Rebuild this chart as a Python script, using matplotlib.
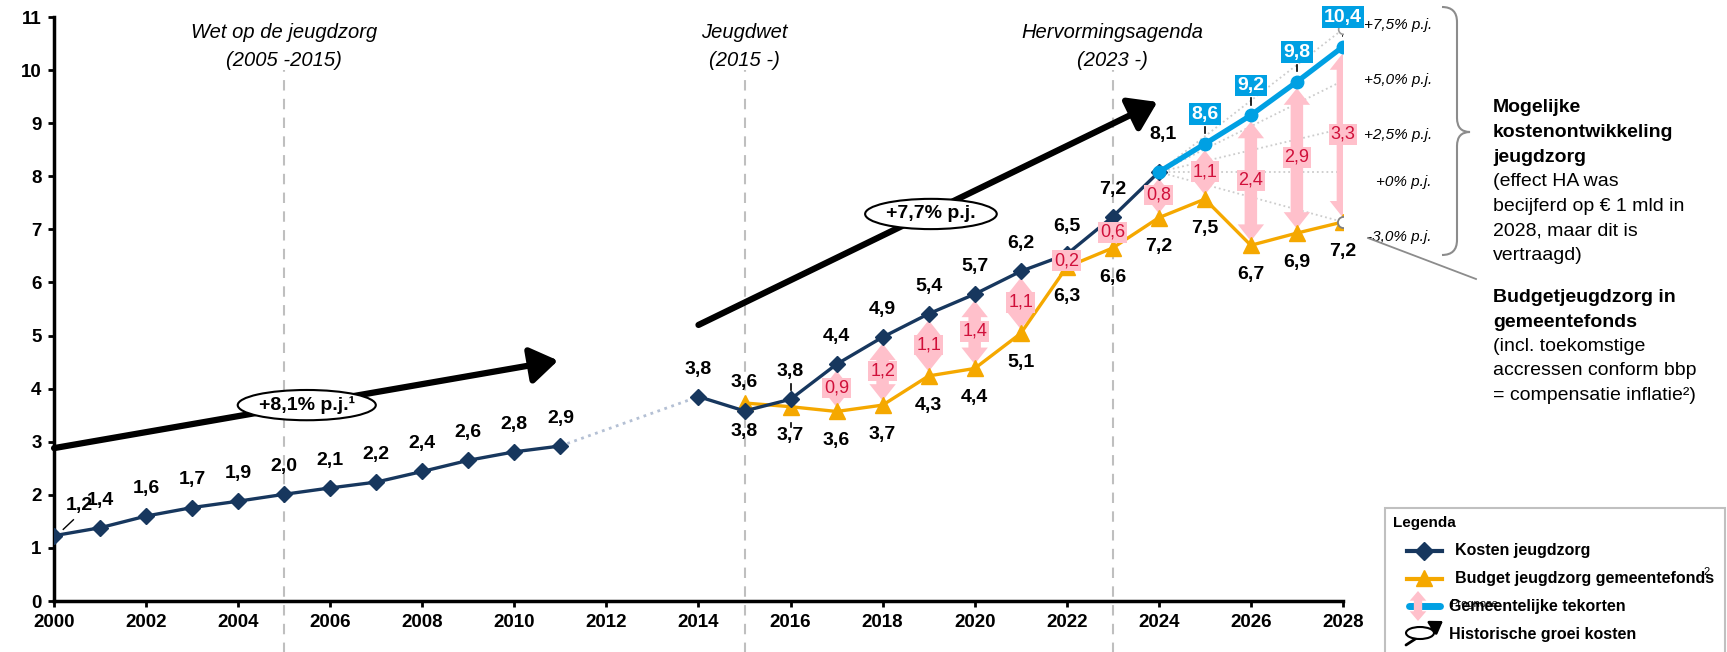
import matplotlib
matplotlib.use("Agg")
import matplotlib.pyplot as plt
import matplotlib.patches as mpatches
from matplotlib.patches import FancyArrowPatch, Ellipse, Rectangle, PathPatch
from matplotlib.path import Path

plt.rcParams['font.family'] = ['Liberation Sans', 'DejaVu Sans']

# ---- data (mld euro) ----
years_hist = list(range(2000, 2012))
kosten_hist = [1.23, 1.38, 1.60, 1.76, 1.88, 2.01, 2.13, 2.24, 2.44, 2.65, 2.81, 2.92]
kosten_hist_lbl = ['1,2', '1,4', '1,6', '1,7', '1,9', '2,0', '2,1', '2,2', '2,4', '2,6', '2,8', '2,9']

years_new = list(range(2014, 2025))
kosten_new = [3.85, 3.58, 3.80, 4.46, 4.97, 5.41, 5.78, 6.21, 6.53, 7.24, 8.08]
kosten_new_lbl = ['3,8', '3,8', '3,8', '4,4', '4,9', '5,4', '5,7', '6,2', '6,5', '7,2', '8,1']

years_budget = list(range(2015, 2029))
budget = [3.73, 3.66, 3.57, 3.69, 4.24, 4.38, 5.04, 6.29, 6.65, 7.22, 7.57, 6.70, 6.93, 7.14]
budget_lbl = ['3,6', '3,7', '3,6', '3,7', '4,3', '4,4', '5,1', '6,3', '6,6', '7,2', '7,5', '6,7', '6,9', '7,2']

years_prog = list(range(2024, 2029))
prognose = [8.08, 8.61, 9.15, 9.78, 10.44]
prognose_lbl = ['', '8,6', '9,2', '9,8', '10,4']

years_tekort = list(range(2017, 2029))
tekort_lbl = ['0,9', '1,2', '1,1', '1,4', '1,1', '0,2', '0,6', '0,8', '1,1', '2,4', '2,9', '3,3']

fan_end = [10.77, 9.80, 8.90, 8.08, 7.14]
fan_lbl = ['+7,5% p.j.', '+5,0% p.j.', '+2,5% p.j.', '+0% p.j.', '-3,0% p.j.']

periods = [(2005, 'Wet op de jeugdzorg', '(2005 -2015)'),
           (2015, 'Jeugdwet', '(2015 -)'),
           (2023, 'Hervormingsagenda', '(2023 -)')]

navy = '#17375e'
orange = '#f5a800'
cyan = '#00a0e3'
pink = '#ffc0cb'
pinktxt = '#d0103a'
grey = '#bfbfbf'

fig = plt.figure(figsize=(17.27, 6.52), dpi=100)
ax = fig.add_axes([0.0313, 0.0782, 0.7463, 0.8957])
ax.set_xlim(2000, 2028)
ax.set_ylim(0, 11)

for s in ['top', 'right']:
    ax.spines[s].set_visible(False)
for s in ['left', 'bottom']:
    ax.spines[s].set_linewidth(2.5)
ax.set_xticks(range(2000, 2029, 2))
ax.set_yticks(range(0, 12))
ax.tick_params(width=2, length=4, labelsize=13.5, pad=5)
for t in ax.get_xticklabels() + ax.get_yticklabels():
    t.set_fontweight('bold')

# period markers
for x, l1, l2 in periods:
    ax.plot([x, x], [-1.0, 10.0], color=grey, ls=(0, (5, 4)), lw=1.5, clip_on=False, zorder=0)
    ax.text(x, 10.7, l1, ha='center', va='center', fontsize=14.5, style='italic')
    ax.text(x, 10.19, l2, ha='center', va='center', fontsize=14.5, style='italic')

# historical growth arrows
for (x0, y0), (x1, y1), (ex, ey, ew), txt in [((2000, 2.88), (2010.95, 4.53), (2005.49, 3.69, 3.0), '+8,1% p.j.\u00b9'),
                                             ((2014.0, 5.2), (2023.97, 9.4), (2019.05, 7.29, 2.86), '+7,7% p.j.')]:
    ax.add_patch(FancyArrowPatch((x0, y0), (x1, y1), arrowstyle='-|>,head_length=0.75,head_width=0.5',
                                 mutation_scale=22, lw=4.5, color='black', shrinkA=0, shrinkB=0,
                                 clip_on=False, zorder=1))
    ax.add_patch(Ellipse((ex, ey), ew, 0.57, fc='white', ec='black', lw=1.5, zorder=1.5))
    ax.text(ex, ey, txt, ha='center', va='center', fontsize=14, fontweight='bold', zorder=1.6)

# dotted link across missing years
ax.plot([years_hist[-1], years_new[0]], [kosten_hist[-1], kosten_new[0]], color='#b4c0d4',
        ls=':', lw=2, zorder=2)

# scenario fan
for v in fan_end:
    ax.plot([years_prog[0], years_prog[-1]], [prognose[0], v], color='#cccccc', ls=':', lw=1.3, zorder=1)
ax.plot(years_prog[-1], fan_end[0], 'o', ms=7, mfc='white', mec='#9a9a9a', mew=1.2, zorder=6)
fan_y = [10.85, 9.81, 8.78, 7.9, 6.86]
for lab, y in zip(fan_lbl, fan_y):
    ax.text(2029.93, y, lab, ha='right', va='center', fontsize=11, style='italic', clip_on=False, zorder=9)

# shortfall arrows
arrow_style = mpatches.ArrowStyle.Simple(head_length=12, head_width=19, tail_width=9)
top_vals = dict(zip(years_new, kosten_new))
top_vals.update(dict(zip(years_prog, prognose)))
bud_vals = dict(zip(years_budget, budget))
for yr, lab in zip(years_tekort, tekort_lbl):
    hi = top_vals[yr] - 0.12
    lo = bud_vals[yr] + 0.08
    mid = (top_vals[yr] + bud_vals[yr]) / 2
    if hi - lo > 0.3:
        for end in (hi, lo):
            ax.add_patch(FancyArrowPatch((yr, mid), (yr, end), arrowstyle=arrow_style, mutation_scale=1,
                                         fc=pink, ec='none', shrinkA=0, shrinkB=0, zorder=2))
    ax.text(yr, mid, lab, ha='center', va='center', fontsize=13, color=pinktxt, zorder=7,
            bbox=dict(boxstyle='square,pad=0.1', fc=pink, ec='none'))

# series
ax.plot(years_hist, kosten_hist, color=navy, lw=2.4, marker='D', ms=8, zorder=4)
ax.plot(years_new, kosten_new, color=navy, lw=2.4, marker='D', ms=8, zorder=4)
ax.plot(years_budget, budget, color=orange, lw=2.4, marker='^', ms=11, zorder=3)
ax.plot(years_prog, prognose, color=cyan, lw=3.8, marker='o', ms=9, zorder=5)
ax.plot(years_budget[-1], budget[-1], 'o', ms=8, mfc='white', mec='#808080', mew=1.3, zorder=6)

# value labels
lblkw = dict(ha='center', va='center', fontsize=14, fontweight='bold', zorder=8)
for i, (x, v, lab) in enumerate(zip(years_hist, kosten_hist, kosten_hist_lbl)):
    if i == 0:
        ax.text(x + 0.55, v + 0.56, lab, **lblkw)
        ax.plot([x + 0.2, x + 0.42], [v + 0.12, v + 0.3], color='black', lw=1)
    else:
        ax.text(x, v + 0.52, lab, **lblkw)
for x, v, lab in zip(years_new, kosten_new, kosten_new_lbl):
    if x == 2015:
        ax.text(x, v - 0.38, lab, **lblkw)
    elif x == 2024:
        ax.text(x + 0.1, v + 0.7, lab, **lblkw)
    else:
        ax.text(x, v + 0.52, lab, **lblkw)
for x, v, lab in zip(years_budget, budget, budget_lbl):
    if x == 2015:
        ax.text(x, v + 0.39, lab, **lblkw)
    else:
        ax.text(x, v - 0.55, lab, **lblkw)
ax.plot([2016, 2016], [3.98, 4.08], color='black', lw=1.2)
ax.plot([2016, 2016], [3.27, 3.36], color='black', lw=1.2)
for x, v, lab in zip(years_prog, prognose, prognose_lbl):
    if lab:
        ax.text(x, v + 0.56, lab, ha='center', va='center', fontsize=14, fontweight='bold', color='white',
                zorder=8, clip_on=False, bbox=dict(boxstyle='square,pad=0.12', fc=cyan, ec='none'))
        ax.plot([x, x], [v + 0.2, v + 0.32], color='black', lw=1.2, zorder=5)

# ---- overlay in pixel units for side notes and legend ----
ov = fig.add_axes([0, 0, 1, 1])
ov.set_xlim(0, 1727)
ov.set_ylim(652, 0)
ov.axis('off')

brace = Path([(1442, 7), (1457, 7), (1457, 22), (1457, 118), (1457, 132), (1470, 132),
              (1457, 132), (1457, 146), (1457, 240), (1457, 255), (1442, 255)],
             [Path.MOVETO, Path.CURVE3, Path.CURVE3, Path.LINETO, Path.CURVE3, Path.CURVE3,
              Path.CURVE3, Path.CURVE3, Path.LINETO, Path.CURVE3, Path.CURVE3])
ov.add_patch(PathPatch(brace, fc='none', ec='#8c8c8c', lw=1.5))
ov.plot([1368, 1476], [238, 279], color='#8c8c8c', lw=1.3)

note1 = [('Mogelijke', 'bold'), ('kostenontwikkeling', 'bold'), ('jeugdzorg', 'bold'),
         ('(effect HA was', 'normal'), ('becijferd op \u20ac 1 mld in', 'normal'),
         ('2028, maar dit is', 'normal'), ('vertraagd)', 'normal')]
for i, (t, w) in enumerate(note1):
    ov.text(1493, 108 + i * 24.6, t, ha='left', va='center', fontsize=14, fontweight=w)
note2 = [('Budgetjeugdzorg in', 'bold'), ('gemeentefonds', 'bold'), ('(incl. toekomstige', 'normal'),
         ('accressen conform bbp', 'normal'), ('= compensatie inflatie\u00b2)', 'normal')]
for i, (t, w) in enumerate(note2):
    ov.text(1493, 298 + i * 24.3, t, ha='left', va='center', fontsize=14, fontweight=w)

# legend
ov.add_patch(Rectangle((1385, 508), 340, 160, fc='white', ec='#c0c0c0', lw=1.5, zorder=1))
ov.text(1393, 523, 'Legenda', ha='left', va='center', fontsize=11, fontweight='bold', zorder=3)
ov.plot([1407, 1442], [551, 551], color=navy, lw=3, zorder=3)
ov.plot(1424, 551, marker='D', ms=9, color=navy, zorder=3)
ov.text(1455, 551, 'Kosten jeugdzorg', ha='left', va='center', fontsize=11.5, fontweight='bold', zorder=3)
ov.plot([1407, 1442], [579, 579], color=orange, lw=3, zorder=3)
ov.plot(1424, 578, marker='^', ms=11, color=orange, zorder=3)
ov.text(1455, 579, 'Budget jeugdzorg gemeentefonds', ha='left', va='center', fontsize=11.5,
        fontweight='bold', zorder=3)
ov.text(1703, 572, '2', ha='left', va='center', fontsize=8, zorder=3)
ov.plot([1409, 1440], [606, 606], color=cyan, lw=5, solid_capstyle='round', zorder=3)
leg_style = mpatches.ArrowStyle.Simple(head_length=7, head_width=12, tail_width=6)
for end in (591, 621):
    ov.add_patch(FancyArrowPatch((1418, 606), (1418, end), arrowstyle=leg_style, mutation_scale=1,
                                 fc=pink, ec='none', shrinkA=0, shrinkB=0, zorder=4))
ov.text(1450, 604, 'Prognose', ha='left', va='center', fontsize=8, zorder=4)
ov.text(1449, 606, 'Gemeentelijke tekorten', ha='left', va='center', fontsize=11.5,
        fontweight='bold', zorder=5)
ov.add_patch(FancyArrowPatch((1406, 645), (1443, 621), arrowstyle='-|>,head_length=0.6,head_width=0.4',
                             mutation_scale=12, lw=2, color='black', shrinkA=0, shrinkB=0, zorder=3))
ov.add_patch(Ellipse((1420, 633), 28, 12, fc='white', ec='black', lw=1.5, zorder=4))
ov.text(1449, 634, 'Historische groei kosten', ha='left', va='center', fontsize=11.5,
        fontweight='bold', zorder=3)

fig.savefig('out.png', dpi=100)
